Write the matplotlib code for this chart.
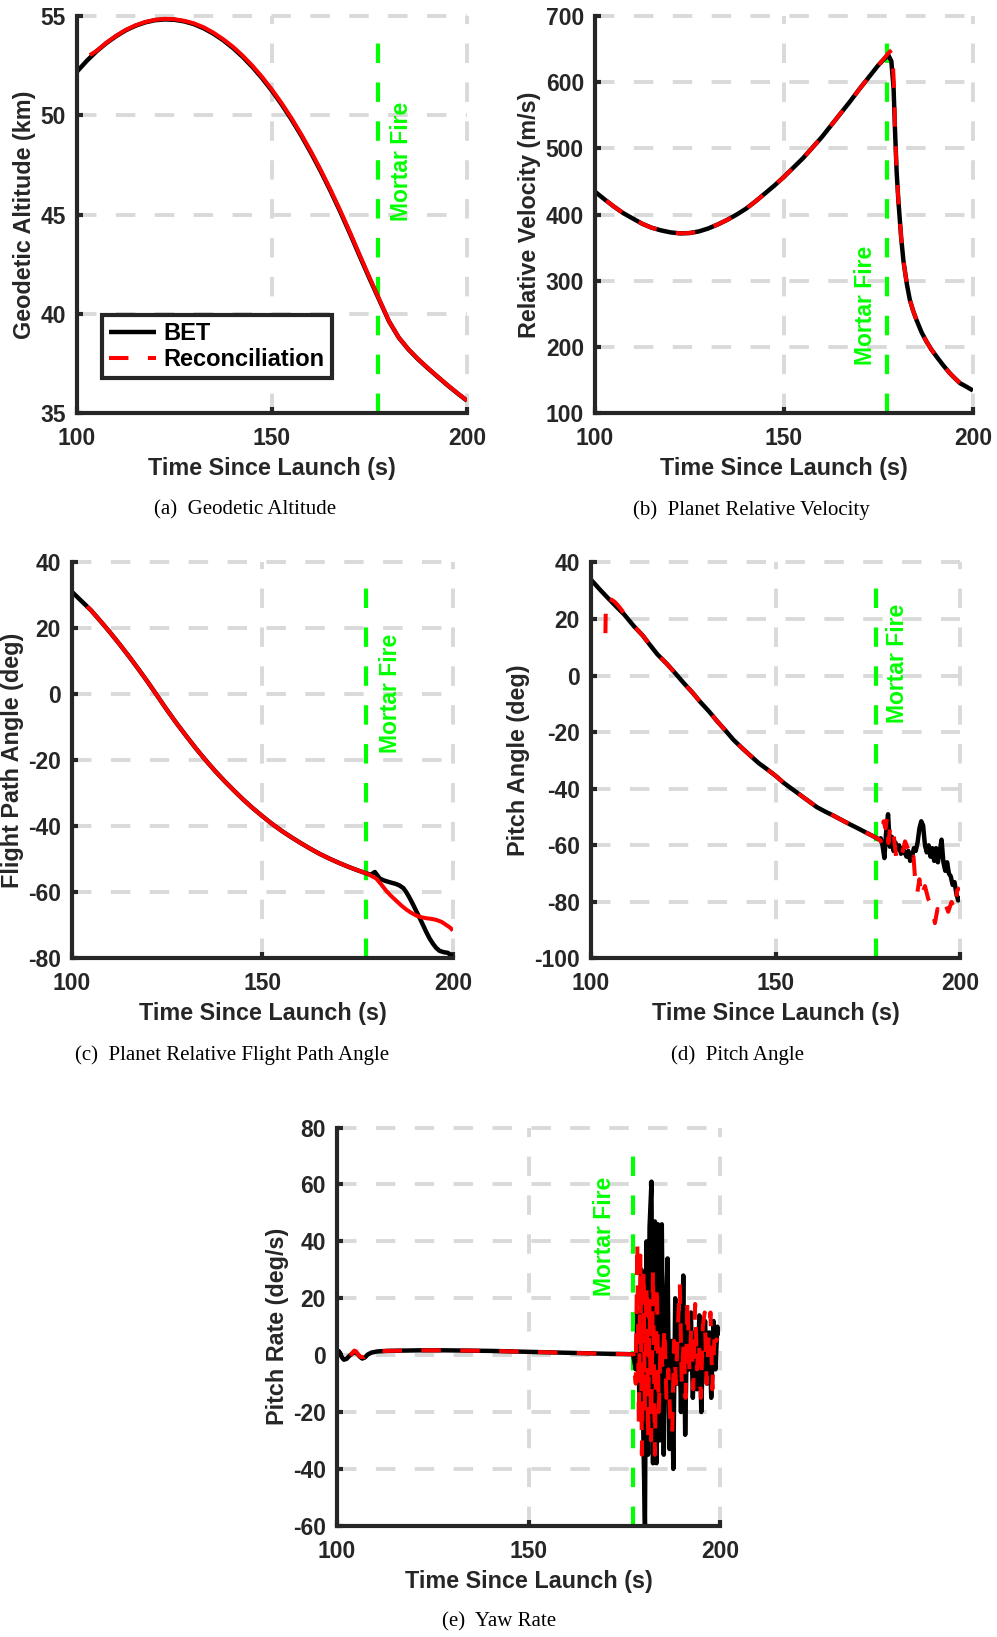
import matplotlib
matplotlib.use("Agg")
import matplotlib.pyplot as plt
from matplotlib.lines import Line2D

# ---------------------------------------------------------------- data
MORTAR_FIRE_T = 177.3

# (a) geodetic altitude [km]
alt_t_bet = [100, 102.5, 105, 107.5, 110, 112.5, 115, 117.5, 120, 122.5,
             125, 127.5, 130, 132.5, 135, 137.5, 140, 142.5, 145, 147.5,
             150, 152.5, 155, 157.5, 160, 162.5, 165, 167.5, 170, 172.5,
             175, 177.5, 180, 182.5, 185, 187.5, 190, 192.5, 195, 197.5, 200]
alt_bet = [52.20, 52.74, 53.22, 53.63, 53.98, 54.28, 54.51, 54.68, 54.79, 54.83,
           54.81, 54.73, 54.59, 54.38, 54.11, 53.78, 53.39, 52.94, 52.43, 51.86,
           51.23, 50.54, 49.79, 48.98, 48.11, 47.18, 46.19, 45.14, 44.04, 42.90,
           41.78, 40.70, 39.62, 38.80, 38.20, 37.70, 37.25, 36.82, 36.40, 36.00, 35.62]
alt_t_rec = [103.3] + alt_t_bet[2:]
alt_rec = [53.03, 53.24, 53.65, 54.00, 54.30, 54.53, 54.70, 54.81, 54.86,
           54.84, 54.76, 54.63, 54.43, 54.16, 53.83, 53.45, 53.00, 52.49, 51.92,
           51.29, 50.60, 49.85, 49.04, 48.17, 47.24, 46.25, 45.20, 44.10, 42.96,
           41.83, 40.73, 39.63, 38.81, 38.21, 37.71, 37.26, 36.83, 36.41, 36.01, 35.63]

# (b) planet relative velocity [m/s]
vel_t_bet = [100, 102.5, 105, 107.5, 110, 112.5, 115, 117.5, 120, 122.5,
             125, 127.5, 130, 132.5, 135, 137.5, 140, 142.5, 145, 147.5,
             150, 152.5, 155, 157.5, 160, 162.5, 165, 167.5, 170, 172.5,
             175, 176.5, 177.6, 178.4, 179.0, 179.4, 179.8, 180.25, 181.0, 181.6,
             182.5, 183.3, 184.2, 185.1, 186.4, 187.7, 189.0, 190.4, 192.0, 193.9,
             195.3, 196.6, 198.2, 200.0]
vel_bet = [434.5, 423, 412, 402, 394, 386, 380, 376, 373, 371.5,
           372, 374.5, 379, 385, 392, 400, 409, 420, 432, 444,
           457, 471, 485, 501, 517, 535, 553, 571, 590, 608,
           626, 635, 641, 632, 590, 523, 465, 422, 365, 330,
           295, 271, 254, 240, 222, 208, 196, 185, 173, 160,
           152, 145, 140, 134]
vel_t_rec = ([103.0] + vel_t_bet[2:31] + [176.5, 177.6, 178.6, 179.1]
             + vel_t_bet[35:])
vel_rec = ([421.0] + vel_bet[2:31] + [636, 644, 649, 595] + vel_bet[35:])

# (c) planet relative flight path angle [deg]
fpa_t_bet = [100, 102.5, 105, 107.5, 110, 112.5, 115, 117.5, 120, 122.5,
             125, 127.5, 130, 132.5, 135, 137.5, 140, 142.5, 145, 147.5,
             150, 152.5, 155, 157.5, 160, 162.5, 165, 167.5, 170, 172.5,
             175, 177.5, 178.5, 179.5, 180.8, 182, 183.4, 185, 186, 187,
             187.8, 188.7, 189.5, 190.4, 191.3, 192.2, 193.0, 193.9, 194.8, 195.6,
             196.5, 197.6, 198.7, 199.4, 200]
fpa_bet = [31.1, 28.3, 25.5, 22.2, 18.8, 15.2, 11.5, 7.6, 3.6, -0.6,
           -4.8, -8.8, -12.6, -16.3, -19.8, -23.1, -26.2, -29.1, -31.9, -34.5,
           -36.9, -39.2, -41.3, -43.2, -45.0, -46.7, -48.3, -49.7, -51.0, -52.2,
           -53.3, -54.3, -54.6, -53.8, -55.8, -56.4, -56.9, -57.4, -57.9, -58.7,
           -60.0, -61.8, -63.6, -65.7, -67.8, -70.0, -72.0, -74.0, -75.6, -76.8,
           -77.7, -78.1, -78.3, -79.0, -79.3]
fpa_t_rec = ([104.0] + fpa_t_bet[2:32]
             + [179.9, 181.2, 182.5, 183.8, 185.2, 186.5, 187.8, 189.1, 190.4,
                191.7, 193.0, 194.3, 195.6, 197.0, 198.3, 199.2, 200.0])
fpa_rec = ([26.7] + fpa_bet[2:32]
           + [-55.8, -57.6, -59.5, -61.1, -62.6, -64.0, -65.2, -66.2, -67.0,
              -67.5, -67.8, -68.0, -68.3, -68.9, -69.9, -70.6, -71.5])

# (d) pitch angle [deg]
pit_t_bet = [100, 102.5, 104.3, 107, 109, 111.6, 114, 116, 118, 120.6,
             123, 125.1, 127.5, 129.6, 132, 134.1, 136.5, 138.6, 141, 143.1,
             145.5, 147.7, 150, 152.2, 154.5, 156.7, 159, 161.2, 163.5, 165.7,
             168, 170.2, 172.5, 174.7, 176.5, 178.0,
             178.5, 179.0, 179.5, 180.0, 180.5, 181.0, 181.5, 182.0, 182.5, 183.0,
             183.5, 184.0, 184.5, 185.0, 185.5, 186.0, 186.5, 187.0, 187.5, 188.0,
             188.5, 189.0, 189.5, 190.0, 190.5, 191.0, 191.5, 192.0, 192.5, 193.0,
             193.5, 194.0, 194.5, 195.0, 195.5, 196.0, 196.5, 197.0, 197.5, 198.0,
             198.5, 199.0, 199.5, 200.0]
pit_bet = [33.9, 30.3, 27.8, 24.2, 21.6, 17.5, 14.2, 10.8, 7.5, 4.1,
           0.6, -2.6, -6.0, -9.3, -12.7, -16.0, -19.5, -22.7, -25.7, -28.2,
           -31.0, -33.1, -35.4, -37.9, -40.1, -42.2, -44.4, -46.5, -48.1, -49.5,
           -51.1, -52.6, -54.1, -55.6, -56.8, -57.9,
           -57.5, -60.0, -64.5, -55.0, -49.0, -60.5, -57.0, -62.0, -59.0, -61.5,
           -60.0, -63.0, -61.0, -62.5, -64.0, -62.0, -65.5, -64.0, -61.0, -62.0,
           -59.0, -54.0, -51.5, -53.0, -60.0, -62.5, -60.0, -64.0, -61.0, -65.5,
           -61.0, -66.0, -62.0, -58.0, -66.0, -69.0, -66.0, -70.0, -71.0, -74.0,
           -73.0, -77.0, -79.5, -78.0]
pit_t_rec = ([103.9, 104.05, 104.8, 105.6, 106.4, 107.2, 108.3, 109.5]
             + pit_t_bet[5:36]
             + [178.3, 178.8, 179.3, 179.8, 180.2, 180.6, 181.0, 181.5, 182.0, 182.8,
                183.5, 184.3, 185.1, 186.0, 186.9, 187.4, 187.8, 188.4, 189.0, 189.5,
                190.0, 190.5, 191.4, 192.3, 193.2, 193.9, 194.6, 195.3, 196.0, 196.8,
                197.7, 198.6, 199.2, 200.0])
pit_rec = ([15.0, 27.3, 27.2, 26.8, 26.1, 25.0, 23.2, 20.9]
           + pit_bet[5:36]
           + [-58.1, -59.2, -51.5, -54.0, -50.5, -59.2, -54.3, -58.0, -56.0, -65.3,
              -62.0, -63.0, -58.6, -61.5, -65.9, -64.0, -71.4, -77.0, -72.0, -78.5,
              -76.0, -74.4, -79.0, -81.0, -87.5, -82.5, -83.5, -80.0, -80.5, -83.5,
              -80.0, -83.0, -76.0, -75.0])

# (e) rate [deg/s]
rate_t_bet = [100, 100.4, 100.8, 101.3, 101.8, 102.5, 103.2, 104, 104.6, 105.3,
              106, 106.6, 107.3, 108, 109, 110.5, 113, 117, 122, 128,
              134, 140, 146, 152, 158, 164, 170, 175, 177.3,
              178.0, 178.5, 179.0, 179.5, 180.0, 180.4, 180.8, 181.2, 181.6, 182.1,
              182.5, 183.0, 183.4, 183.8, 184.2, 184.8, 185.3, 185.8, 186.3, 186.8,
              187.3, 187.8, 188.3, 188.8, 189.3, 189.8, 190.4, 190.9, 191.4, 191.9,
              192.4, 192.9, 193.5, 194.0, 194.6, 195.1, 195.6, 196.1, 196.6, 197.2,
              197.7, 198.3, 198.8, 199.3, 200.0]
rate_bet = [0.5, 1.5, 0.8, -0.8, -1.6, -1.3, -0.3, 0.6, 1.0, 0.5,
            -0.6, -1.2, -0.8, 0.2, 0.9, 1.3, 1.5, 1.6, 1.7, 1.7,
            1.6, 1.5, 1.3, 1.1, 0.9, 0.7, 0.5, 0.4, 0.3,
            -5, 15, -20, 30, -30, -60, 40, -35, 45, 61,
            -38, 47, -38, 46, -30, 46, -35, 10, 34, -33,
            5, -40, 20, -10, 15, -20, 28, -28, 10, -5,
            15, -15, 8, -12, 14, -20, 5, 12, -10, 8,
            -15, 12, -5, 10, 7]
rate_t_rec = [103.5, 104.0, 104.5, 105.0, 105.5, 106.2, 107, 108, 109, 110.5,
              113, 117, 122, 128, 134, 140, 146, 152, 158, 164,
              170, 175, 177.4,
              178.0, 178.4, 178.8, 179.2, 179.6, 180.0, 180.4, 180.8, 181.2, 181.6,
              182.0, 182.5, 183.0, 183.5, 184.0, 184.5, 185.0, 185.5, 186.0, 186.5,
              187.0, 187.5, 188.0, 188.5, 189.0, 189.5, 190.0, 190.5, 191.0, 191.5,
              192.0, 192.5, 193.0, 193.5, 194.0, 194.5, 195.0, 195.5, 196.0, 196.5,
              197.0, 197.5, 198.0, 198.5, 199.0, 200.0]
rate_rec = [-0.2, 0.8, 1.6, 1.3, 0.2, -0.6, -0.7, 0.2, 0.9, 1.3,
            1.5, 1.6, 1.7, 1.7, 1.6, 1.5, 1.3, 1.1, 0.9, 0.7,
            0.5, 0.4, 0.3,
            -10, 40, -25, 35, -35, 30, -20, 25, -30, 20,
            -30, 30, -35, 25, -20, 5, -5, 10, -15, -5,
            -22, -28, 5, -10, 10, 25, -10, 5, -15, 20,
            -5, 10, -12, 18, -5, 5, -15, 10, 15, -10,
            5, 15, -12, 5, 5, 8]

# ---------------------------------------------------------------- style
plt.rcParams.update({
    "font.family": "Liberation Sans",
    "font.weight": "bold",
    "axes.labelweight": "bold",
    "axes.unicode_minus": False,
    "lines.scale_dashes": False,
    "lines.solid_capstyle": "butt",
    "lines.dash_capstyle": "butt",
})

INK = "#262626"
GRID = "#d9d9d9"
GREEN = "#00ff00"
DASH = (0, (14, 14))
LW_BET = 3.2
LW_REC = 2.9

fig = plt.figure(figsize=(9.97, 16.37), dpi=100)


def make_axes(rect, ylim, yticks, ylabel):
    ax = fig.add_axes(rect)
    ax.set_xlim(100, 200)
    ax.set_xticks([100, 150, 200])
    ax.set_ylim(*ylim)
    ax.set_yticks(yticks)
    ax.set_axisbelow(True)
    ax.grid(True, color=GRID, linestyle=DASH, linewidth=2.8)
    for side in ("top", "right"):
        ax.spines[side].set_visible(False)
    for side in ("left", "bottom"):
        ax.spines[side].set_linewidth(3)
        ax.spines[side].set_color(INK)
    ax.tick_params(direction="in", length=4, width=3, color=INK,
                   labelcolor=INK, labelsize=16.5)
    ax.tick_params(axis="x", pad=10)
    ax.tick_params(axis="y", pad=8)
    ax.set_xlabel("Time Since Launch (s)", fontsize=16.8, color=INK, labelpad=5)
    ax.set_ylabel(ylabel, fontsize=16.8, color=INK, labelpad=3)
    return ax


def mortar(ax, tx, ty):
    ax.axvline(MORTAR_FIRE_T, ymin=0, ymax=0.956, color=GREEN, lw=3,
               linestyle=DASH, zorder=1.8)
    ax.text(tx, ty, "Mortar Fire", rotation=90, color=GREEN, fontsize=16.5,
            fontweight="bold", ha="center", va="center")


def caption(x, y, s):
    fig.text(x, y, s, family="Liberation Serif", fontweight="normal",
             fontsize=15, color="black", ha="center", va="center")


# (a)
ax_a = make_axes([0.0772, 0.7477, 0.3912, 0.2425], (35, 55),
                 [35, 40, 45, 50, 55], "Geodetic Altitude (km)")
mortar(ax_a, 183.25, 47.66)
ax_a.plot(alt_t_bet, alt_bet, color="black", lw=LW_BET)
ax_a.plot(alt_t_rec, alt_rec, color="red", lw=LW_REC)
handles = [Line2D([], [], color="black", lw=LW_BET),
           Line2D([], [], color="red", lw=LW_REC, linestyle=DASH)]
leg = ax_a.legend(handles, ["BET", "Reconciliation"], loc="lower left",
                  bbox_to_anchor=(0.064, 0.088), borderaxespad=0,
                  prop={"weight": "bold", "size": 17},
                  handlelength=2.0, handletextpad=0.3, borderpad=0.3,
                  labelspacing=0.12, fancybox=False, framealpha=1,
                  edgecolor=INK)
leg.get_frame().set_linewidth(3)
caption(0.2457, 0.6885, "(a)  Geodetic Altitude")

# (b)
ax_b = make_axes([0.5968, 0.7477, 0.3791, 0.2425], (100, 700),
                 [100, 200, 300, 400, 500, 600, 700], "Relative Velocity (m/s)")
mortar(ax_b, 171.6, 263)
ax_b.plot(vel_t_bet, vel_bet, color="black", lw=LW_BET)
ax_b.plot(vel_t_rec, vel_rec, color="red", lw=LW_REC, linestyle=DASH)
caption(0.754, 0.6885, "(b)  Planet Relative Velocity")

# (c)
ax_c = make_axes([0.0722, 0.4145, 0.3821, 0.2419], (-80, 40),
                 [-80, -60, -40, -20, 0, 20, 40], "Flight Path Angle (deg)")
mortar(ax_c, 183.7, 0.2)
ax_c.plot(fpa_t_bet, fpa_bet, color="black", lw=LW_BET)
ax_c.plot(fpa_t_rec, fpa_rec, color="red", lw=LW_REC)
caption(0.2327, 0.3557, "(c)  Planet Relative Flight Path Angle")

# (d)
ax_d = make_axes([0.5928, 0.4145, 0.3701, 0.2419], (-100, 40),
                 [-100, -80, -60, -40, -20, 0, 20, 40], "Pitch Angle (deg)")
mortar(ax_d, 183.06, 4.2)
ax_d.plot(pit_t_bet, pit_bet, color="black", lw=LW_BET)
ax_d.plot(pit_t_rec, pit_rec, color="red", lw=LW_REC, linestyle=DASH)
caption(0.740, 0.3557, "(d)  Pitch Angle")

# (e)
ax_e = make_axes([0.3380, 0.0679, 0.3842, 0.2433], (-60, 80),
                 [-60, -40, -20, 0, 20, 40, 60, 80], "Pitch Rate (deg/s)")
mortar(ax_e, 169.76, 41.7)
ax_e.plot(rate_t_bet, rate_bet, color="black", lw=LW_BET)
ax_e.plot(rate_t_rec, rate_rec, color="red", lw=LW_REC, linestyle=DASH)
caption(0.5005, 0.0095, "(e)  Yaw Rate")

# grid lines sitting on the axes limits are drawn at full width
fig.canvas.draw()
for ax in (ax_a, ax_b, ax_c, ax_d, ax_e):
    for gl in ax.get_xgridlines() + ax.get_ygridlines():
        gl.set_clip_on(False)

fig.savefig("out.png", dpi=100)
